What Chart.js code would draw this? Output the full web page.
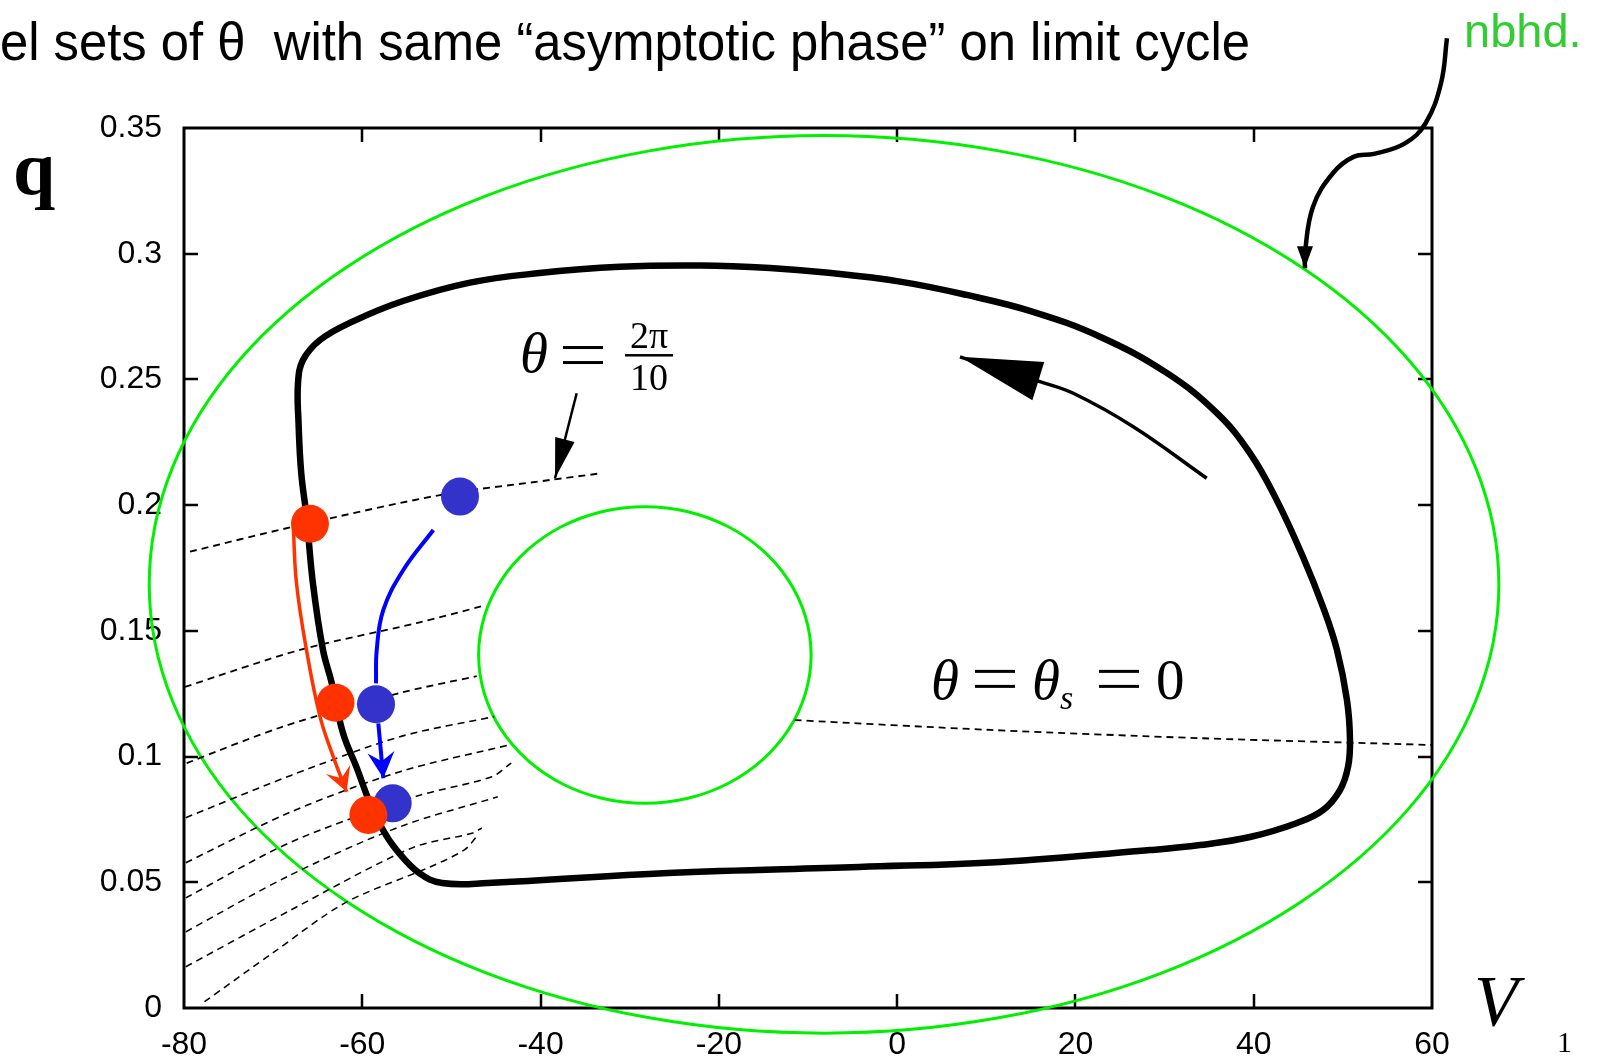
<!DOCTYPE html>
<html>
<head>
<meta charset="utf-8">
<script src="https://cdn.jsdelivr.net/npm/chart.js@4/dist/chart.umd.min.js"></script>
<style>
  html, body { margin: 0; padding: 0; background: #fff; }
  #wrap { position: relative; width: 1604px; height: 1057px; }
</style>
</head>
<body>
<div id="wrap"><canvas id="phaseChart"></canvas></div>
<script>
// axis ticks
const vTicks = [-80, -60, -40, -20, 0, 20, 40, 60];
const vTickLabels = ['-80', '-60', '-40', '-20', '0', '20', '40', '60'];
const qTicks = [0, 0.05, 0.1, 0.15, 0.2, 0.25, 0.3, 0.35];
const qTickLabels = ['0', '0.05', '0.1', '0.15', '0.2', '0.25', '0.3', '0.35'];

// limit cycle, [V, q] (closed loop)
const limitCycle = [
  [50.80, 0.1066], [50.46, 0.1225], [49.34, 0.1424], [47.77, 0.1595], [45.53, 0.1794],
  [42.58, 0.2020], [39.58, 0.2207], [35.85, 0.2367], [30.24, 0.2526], [22.76, 0.2670],
  [15.24, 0.2769], [7.80, 0.2836], [0.32, 0.2889], [-8.0, 0.2925], [-14.26, 0.2943],
  [-22.0, 0.2953], [-31.09, 0.2948], [-40.40, 0.2922], [-47.92, 0.2885], [-55.43, 0.2812],
  [-61.04, 0.2731], [-64.74, 0.2657], [-66.65, 0.2577], [-67.21, 0.2486], [-67.15, 0.2327],
  [-66.85, 0.2128], [-66.25, 0.1954], [-65.54, 0.1690], [-64.41, 0.1424], [-63.43, 0.1293],
  [-62.17, 0.1094], [-60.64, 0.0957], [-59.14, 0.0815], [-57.68, 0.0708], [-56.15, 0.0628],
  [-53.64, 0.0537], [-51.06, 0.0497], [-45.90, 0.0497], [-25.70, 0.0537], [-4.28, 0.0561],
  [11.54, 0.0581], [28.37, 0.0628], [33.97, 0.0648], [39.58, 0.0680], [44.86, 0.0736],
  [47.77, 0.0787], [49.68, 0.0867], [50.58, 0.0959]
];

// neighbourhood boundaries (green, closed loops)
const outerNbhd = [
  [67.50, 0.1685], [64.92, 0.2147], [57.36, 0.2578], [45.33, 0.2947], [29.65, 0.3231],
  [11.39, 0.3409], [-8.20, 0.3470], [-27.79, 0.3409], [-46.05, 0.3231], [-61.73, 0.2947],
  [-73.76, 0.2578], [-81.32, 0.2147], [-83.90, 0.1685], [-81.32, 0.1223], [-73.76, 0.0792],
  [-61.73, 0.0423], [-46.05, 0.0139], [-27.79, -0.0039], [-8.20, -0.0100], [11.39, -0.0039],
  [29.65, 0.0139], [45.33, 0.0423], [57.36, 0.0792], [64.92, 0.1223]
];
const innerNbhd = [
  [-9.65, 0.1404], [-10.29, 0.1557], [-12.15, 0.1699], [-15.11, 0.1821], [-18.98, 0.1915],
  [-23.47, 0.1974], [-28.30, 0.1994], [-33.13, 0.1974], [-37.63, 0.1915], [-41.49, 0.1821],
  [-44.45, 0.1699], [-46.31, 0.1557], [-46.95, 0.1404], [-46.31, 0.1251], [-44.45, 0.1109],
  [-41.49, 0.0987], [-37.63, 0.0893], [-33.13, 0.0834], [-28.30, 0.0814], [-23.47, 0.0834],
  [-18.98, 0.0893], [-15.11, 0.0987], [-12.15, 0.1109], [-10.29, 0.1251]
];

// isochrons (dashed)
const iso1 = [[-79.33, 0.1815], [-67.77, 0.1914], [-51.28, 0.2040], [-38.94, 0.2100], [-33.56, 0.2125]];
const iso2 = [[-79.9, 0.1277], [-67.0, 0.1424], [-53.9, 0.1531], [-46.46, 0.1599]];
const iso3 = [[-79.7, 0.0974], [-68.9, 0.1119], [-55.77, 0.1253], [-47.16, 0.1320]];
const iso4 = [[-79.8, 0.0757], [-68.0, 0.0925], [-55.77, 0.1079], [-45.2, 0.1159]];
const iso5 = [[-79.8, 0.0578], [-68.0, 0.0780], [-55.77, 0.0940], [-43.55, 0.1046]];
const iso6 = [[-79.8, 0.0438], [-68.0, 0.0660], [-54.1, 0.0840], [-45.45, 0.0920], [-43.3, 0.0974]];
const iso7 = [[-79.8, 0.0303], [-68.0, 0.0530], [-55.77, 0.0721], [-44.8, 0.0840]];
const iso8 = [[-79.8, 0.0164], [-68.0, 0.0390], [-54.48, 0.0636], [-47.6, 0.0696], [-46.6, 0.0716]];
const iso9 = [[-77.7, 0.0025], [-70.0, 0.0220], [-61.94, 0.0418], [-52.34, 0.0562], [-48.5, 0.0630], [-47.0, 0.0690]];
const isoZero = [[-11.49, 0.1145], [10.46, 0.1106], [34.08, 0.1073], [60.0, 0.1046]];

// initial / later states
const redDots = [[-65.87, 0.1926], [-63.0, 0.1214], [-59.32, 0.0768]];
const blueDots = [[-49.04, 0.2034], [-58.46, 0.1208], [-56.59, 0.0814]];

// trajectories and pointer arrows
const redPath = [[-67.74, 0.1914], [-67.38, 0.1689], [-66.26, 0.1424], [-64.74, 0.1159], [-63.25, 0.0999], [-61.76, 0.0860]];
const bluePath1 = [[-52.03, 0.1901], [-55.40, 0.1742], [-57.64, 0.1583], [-58.38, 0.1424], [-58.46, 0.1291]];
const bluePath2 = [[-58.2, 0.1132], [-57.64, 0.0914]];
const flowArrow = [[34.73, 0.2107], [26.49, 0.2312], [19.76, 0.2445], [16.03, 0.2491], [7.05, 0.2590]];
const labelArrow = [[-35.95, 0.2445], [-38.38, 0.2107]];
const nbhdArrow = [[61.68, 0.3857], [61.01, 0.3678], [59.28, 0.3519], [56.97, 0.3439], [53.49, 0.3397],
  [51.25, 0.3386], [48.90, 0.3321], [46.65, 0.3187], [45.75, 0.3003], [45.75, 0.2942]];

const toXY = pts => pts.map(p => ({ x: p[0], y: p[1] }));

function curve(pts, color, width, opts) {
  return Object.assign({
    data: toXY(pts),
    showLine: true,
    borderColor: color,
    backgroundColor: color,
    borderWidth: width,
    pointRadius: 0,
    pointHoverRadius: 0,
    fill: false,
    tension: 0.4,
    clip: false
  }, opts || {});
}

function dots(pts, color, order) {
  return {
    data: toXY(pts),
    showLine: false,
    pointRadius: 19,
    pointHoverRadius: 19,
    pointBorderWidth: 0,
    backgroundColor: color,
    borderColor: color,
    clip: false,
    order: order
  };
}

const dashed = { borderDash: [7, 5], order: 6, tension: 0.3 };

const datasets = [
  dots(redDots, '#ff3300', 0),
  dots(blueDots, '#3333cc', 1),
  curve(redPath, '#ff3300', 3.5, { order: 2, arrow: { len: 24, width: 26, notch: 0.6 } }),
  curve(bluePath1, '#0000ff', 4, { order: 2 }),
  curve(bluePath2, '#0000ff', 4, { order: 2, arrow: { len: 26, width: 27, notch: 0.65 } }),
  curve(flowArrow, '#000', 3.5, { order: 2, arrow: { len: 82, width: 40, notch: 1 } }),
  curve(labelArrow, '#000', 2.5, { order: 2, tension: 0, arrow: { len: 40, width: 20, notch: 1 } }),
  curve(nbhdArrow, '#000', 4.5, { order: 2, arrow: { len: 22, width: 16, notch: 1 } }),
  curve(limitCycle, '#000', 6.5, { order: 3, closed: true }),
  curve(iso1, '#000', 1.9, dashed),
  curve(iso2, '#000', 1.8, dashed),
  curve(iso3, '#000', 1.8, dashed),
  curve(iso4, '#000', 1.6, dashed),
  curve(iso5, '#000', 1.6, dashed),
  curve(iso6, '#000', 1.6, dashed),
  curve(iso7, '#000', 1.5, dashed),
  curve(iso8, '#000', 1.5, dashed),
  curve(iso9, '#000', 1.5, dashed),
  curve(isoZero, '#000', 1.8, dashed),
  curve(outerNbhd, '#00f000', 3, { order: 8, tension: 0.34, closed: true }),
  curve(innerNbhd, '#00f000', 3, { order: 8, tension: 0.34, closed: true })
];

// make the flagged line datasets smooth closed loops
const closedLoops = {
  id: 'closedLoops',
  afterDatasetUpdate(chart, args) {
    const ds = chart.data.datasets[args.index];
    if (ds.closed && args.meta.dataset) {
      args.meta.dataset._loop = true;
      args.meta.dataset._fullLoop = true;
    }
  }
};

// inward ticks on all four sides plus the frame
const frameTicks = {
  id: 'frameTicks',
  beforeDatasetsDraw(chart) {
    const { ctx, chartArea: a, scales: { x, y } } = chart;
    ctx.save();
    ctx.strokeStyle = '#000';
    ctx.lineWidth = 2.5;
    ctx.beginPath();
    vTicks.slice(1, -1).forEach(v => {
      const px = Math.round(x.getPixelForValue(v));
      ctx.moveTo(px, a.bottom); ctx.lineTo(px, a.bottom - 14);
      ctx.moveTo(px, a.top); ctx.lineTo(px, a.top + 14);
    });
    qTicks.slice(1, -1).forEach(q => {
      const py = Math.round(y.getPixelForValue(q));
      ctx.moveTo(a.left, py); ctx.lineTo(a.left + 14, py);
      ctx.moveTo(a.right, py); ctx.lineTo(a.right - 14, py);
    });
    ctx.stroke();
    ctx.lineWidth = 3;
    ctx.strokeRect(a.left, a.top, a.right - a.left, a.bottom - a.top);
    ctx.restore();
  }
};

// arrow heads at the end of flagged datasets
const arrowHeads = {
  id: 'arrowHeads',
  afterDatasetDraw(chart, args) {
    const ds = chart.data.datasets[args.index];
    if (!ds.arrow) return;
    const pts = args.meta.data;
    const tip = pts[pts.length - 1], prev = pts[pts.length - 2];
    let dx = tip.x - prev.x, dy = tip.y - prev.y;
    const d = Math.hypot(dx, dy) || 1;
    dx /= d; dy /= d;
    const { len, width, notch } = ds.arrow;
    const bx = tip.x - dx * len, by = tip.y - dy * len;
    const nx = -dy * width / 2, ny = dx * width / 2;
    const ctx = chart.ctx;
    ctx.save();
    ctx.fillStyle = ds.borderColor;
    ctx.beginPath();
    ctx.moveTo(tip.x, tip.y);
    ctx.lineTo(bx + nx, by + ny);
    ctx.lineTo(tip.x - dx * len * notch, tip.y - dy * len * notch);
    ctx.lineTo(bx - nx, by - ny);
    ctx.closePath();
    ctx.fill();
    ctx.restore();
  }
};

// phase labels inside the plot, anchored in data units
const mathLabels = {
  id: 'mathLabels',
  afterDatasetsDraw(chart) {
    const { ctx, scales: { x, y } } = chart;
    const px = v => x.getPixelForValue(v), py = q => y.getPixelForValue(q);
    const serif = '"Liberation Serif", "DejaVu Serif", serif';
    ctx.save();
    ctx.fillStyle = '#000';
    ctx.textBaseline = 'alphabetic';
    const text = (t, v, q, font, align) => {
      ctx.font = font;
      ctx.textAlign = align || 'left';
      ctx.fillText(t, px(v), py(q));
    };
    const eq = (v, q) => {
      const cx = px(v), cy = py(q);
      ctx.fillRect(cx - 20, cy - 9, 40, 3);
      ctx.fillRect(cx - 20, cy + 6, 40, 3);
    };
    // theta = 2pi/10
    text('θ', -42.31, 0.2530, 'italic 57px ' + serif);
    eq(-35.24, 0.2597);
    text('2π', -27.84, 0.2625, '38px ' + serif, 'center');
    ctx.fillRect(px(-30.53), py(0.2597) - 1, px(-25.15) - px(-30.53), 2.5);
    text('10', -27.84, 0.2458, '38px ' + serif, 'center');
    // theta = theta_s = 0
    text('θ', 3.80, 0.1229, 'italic 57px ' + serif);
    eq(10.98, 0.1309);
    text('θ', 15.13, 0.1229, 'italic 57px ' + serif);
    text('s', 18.27, 0.1189, 'italic 34px ' + serif);
    eq(24.89, 0.1309);
    text('0', 29.04, 0.1229, '57px ' + serif);
    ctx.restore();
  }
};

// page texts around the plot
const pageTexts = {
  id: 'pageTexts',
  afterDraw(chart) {
    const ctx = chart.ctx;
    ctx.save();
    ctx.fillStyle = '#000';
    ctx.textBaseline = 'alphabetic';
    ctx.textAlign = 'left';
    const title = 'el sets of θ  with same “asymptotic phase” on limit cycle';
    ctx.font = '53px "Liberation Sans", Arial, sans-serif';
    const w = ctx.measureText(title).width;
    ctx.save();
    ctx.translate(0, 60);
    ctx.scale(1250 / w, 1);
    ctx.fillText(title, 0, 0);
    ctx.restore();

    ctx.fillStyle = '#33cc33';
    ctx.font = '47px "Liberation Sans", Arial, sans-serif';
    ctx.fillText('nbhd.', 1464, 47);

    ctx.fillStyle = '#000';
    ctx.font = 'bold 76px "Liberation Serif", serif';
    ctx.fillText('q', 13, 194);
    ctx.font = 'italic 72px "Liberation Serif", serif';
    ctx.fillText('V', 1474, 1025);
    ctx.font = '30px "Liberation Serif", serif';
    ctx.fillText('1', 1557, 1052);
    ctx.restore();
  }
};

const tickFont = { family: '"Liberation Sans", Arial, sans-serif', size: 32 };

new Chart(document.getElementById('phaseChart'), {
  type: 'scatter',
  data: { datasets: datasets },
  options: {
    responsive: true,
    maintainAspectRatio: false,
    animation: false,
    events: [],
    layout: { padding: { top: 128, right: 172, left: 0, bottom: 0 } },
    elements: { line: { capBezierPoints: false } },
    plugins: { legend: { display: false }, tooltip: { enabled: false } },
    scales: {
      x: {
        type: 'linear',
        min: -80,
        max: 60,
        afterBuildTicks: s => { s.ticks = vTicks.map(v => ({ value: v })); },
        afterFit: s => { s.height = 49; },
        grid: { display: false, drawTicks: false },
        border: { display: false },
        ticks: {
          color: '#000',
          font: tickFont,
          padding: 18,
          maxRotation: 0,
          autoSkip: false,
          callback: v => vTickLabels[vTicks.indexOf(Math.round(v))] || ''
        }
      },
      y: {
        type: 'linear',
        min: 0,
        max: 0.35,
        afterBuildTicks: s => { s.ticks = qTicks.map(v => ({ value: v })); },
        afterFit: s => { s.width = 184; },
        grid: { display: false, drawTicks: false },
        border: { display: false },
        ticks: {
          color: '#000',
          font: tickFont,
          padding: 22,
          autoSkip: false,
          callback: v => qTickLabels[Math.round(v / 0.05)] || ''
        }
      }
    }
  },
  plugins: [closedLoops, frameTicks, arrowHeads, mathLabels, pageTexts]
});
</script>
</body>
</html>
